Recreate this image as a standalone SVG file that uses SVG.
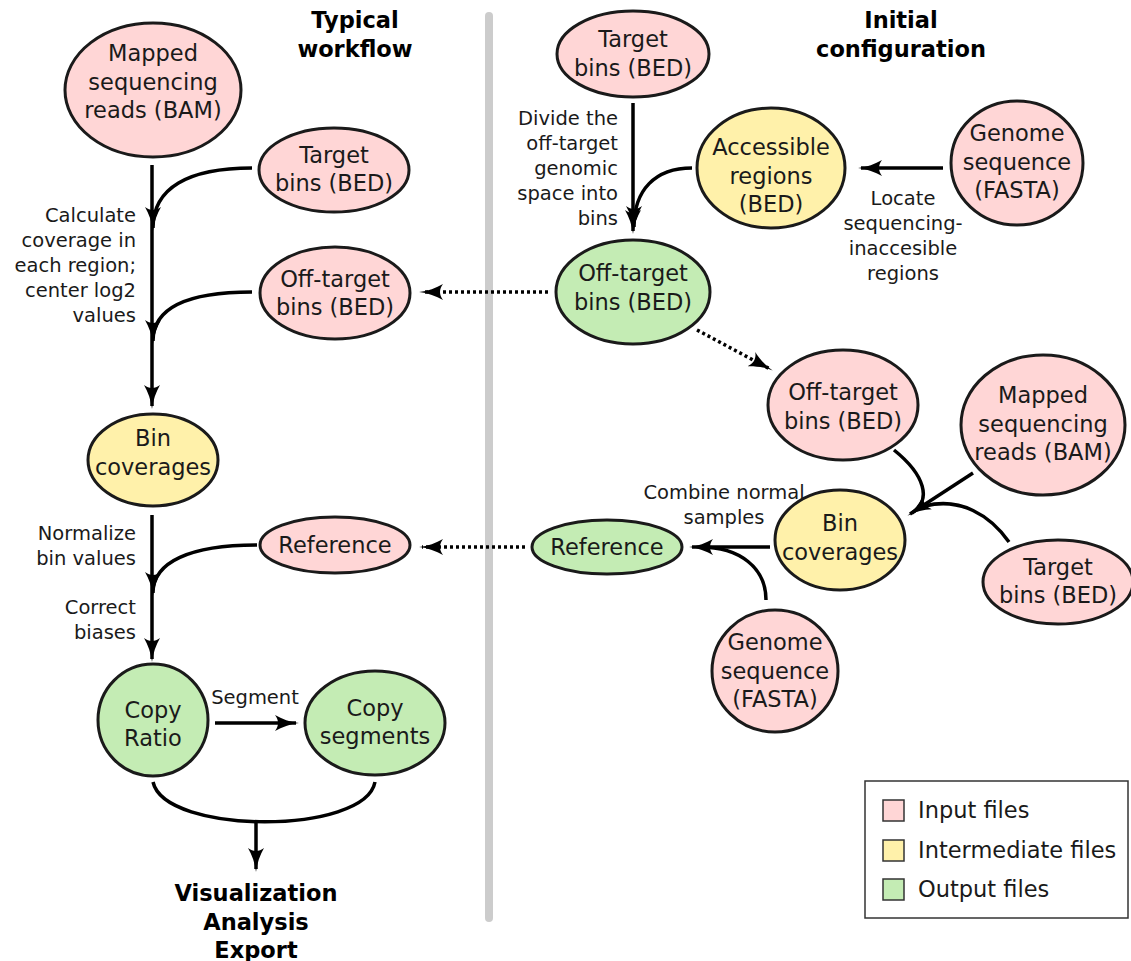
<svg xmlns="http://www.w3.org/2000/svg" width="1131" height="961" viewBox="0 0 1131 961">
<style>
text{font-family:"DejaVu Sans","Liberation Sans",sans-serif;fill:#1a1a1a}
.n{font-size:22.5px;text-anchor:middle}
.l{font-size:19.5px}
.r{text-anchor:end}
.c{text-anchor:middle}
.b{font-size:22.5px;font-weight:bold;text-anchor:middle;fill:#000}
.in{fill:#ffd6d6;stroke:#1a1a1a;stroke-width:3}
.mid{fill:#fff1aa;stroke:#1a1a1a;stroke-width:3}
.out{fill:#c4ecb4;stroke:#1a1a1a;stroke-width:3}
.e{fill:none;stroke:#000;stroke-width:3.5}
.d{stroke-dasharray:3 3}
</style>
<defs>
<marker id="ah" viewBox="0 0 24 16" refX="21" refY="8" markerWidth="24" markerHeight="16" markerUnits="userSpaceOnUse" orient="auto">
<path d="M24,8 C15,9 7,12 0,16 C4,11 4,5 0,0 C7,4 15,7 24,8 Z" fill="#000"/>
</marker>
</defs>
<line x1="489" y1="16" x2="489" y2="918" stroke="#cccccc" stroke-width="8" stroke-linecap="round"/>
<g id="titles">
<text class="b" x="355" y="28">Typical<tspan x="355" dy="29">workflow</tspan></text>
<text class="b" x="901" y="28">Initial<tspan x="901" dy="29">configuration</tspan></text>
<text class="b" x="256" y="901">Visualization<tspan x="256" dy="28.5">Analysis</tspan><tspan x="256" dy="28">Export</tspan></text>
</g>
<g id="connectors">
<path class="e" d="M152,165 V406" marker-end="url(#ah)"/>
<path class="e" d="M252,168 C188,168 153,188 153,228" marker-end="url(#ah)"/>
<path class="e" d="M252,292 C188,292 153,308 153,341" marker-end="url(#ah)"/>
<path class="e" d="M152,515 V659" marker-end="url(#ah)"/>
<path class="e" d="M257,545 C190,545 153,562 153,593" marker-end="url(#ah)"/>
<path class="e" d="M215,723 H296" marker-end="url(#ah)"/>
<path class="e" d="M153,782 C165,835 365,835 375,782"/>
<path class="e" d="M256,821 V869" marker-end="url(#ah)"/>
<path class="e d" d="M548,292 H422" marker-end="url(#ah)"/>
<path class="e d" d="M697,330 L770,369" marker-end="url(#ah)"/>
<path class="e d" d="M525,547 H422" marker-end="url(#ah)"/>
<path class="e" d="M633,103 V231" marker-end="url(#ah)"/>
<path class="e" d="M692,168 C655,168 634,190 634,227" marker-end="url(#ah)"/>
<path class="e" d="M943,168 H861" marker-end="url(#ah)"/>
<path class="e" d="M770,547 H692" marker-end="url(#ah)"/>
<path class="e" d="M766,600 C766,568 740,547 700,547"/>
<path class="e" d="M894,450 C925,475 932,500 912,513"/>
<path class="e" d="M1009,542 C990,515 960,497 925,506"/>
<path class="e" d="M973,473 L910,514" marker-end="url(#ah)"/>
</g>
<g id="labels">
<text class="l r" x="136" y="222">Calculate<tspan x="136" dy="25">coverage in</tspan><tspan x="136" dy="25">each region;</tspan><tspan x="136" dy="25">center log2</tspan><tspan x="136" dy="25">values</tspan></text>
<text class="l r" x="136" y="540">Normalize<tspan x="136" dy="25">bin values</tspan></text>
<text class="l r" x="136" y="614">Correct<tspan x="136" dy="25">biases</tspan></text>
<text class="l c" x="255" y="704">Segment</text>
<text class="l r" x="618" y="125">Divide the<tspan x="618" dy="25">off-target</tspan><tspan x="618" dy="25">genomic</tspan><tspan x="618" dy="25">space into</tspan><tspan x="618" dy="25">bins</tspan></text>
<text class="l c" x="903" y="205">Locate<tspan x="903" dy="25">sequencing-</tspan><tspan x="903" dy="25">inaccesible</tspan><tspan x="903" dy="25">regions</tspan></text>
<text class="l c" x="724" y="499">Combine normal<tspan x="724" dy="25">samples</tspan></text>
</g>
<g id="bam_left"><ellipse class="in" cx="153" cy="90" rx="88" ry="67"/><text class="n" x="153" y="61">Mapped<tspan x="153" dy="28.5">sequencing</tspan><tspan x="153" dy="28.5">reads (BAM)</tspan></text></g>
<g id="target_left"><ellipse class="in" cx="334" cy="170" rx="75" ry="42"/><text class="n" x="334" y="163">Target<tspan x="334" dy="28">bins (BED)</tspan></text></g>
<g id="offtarget_left"><ellipse class="in" cx="335" cy="293" rx="75" ry="46"/><text class="n" x="335" y="287">Off-target<tspan x="335" dy="28">bins (BED)</tspan></text></g>
<g id="bincov_left"><ellipse class="mid" cx="153" cy="460" rx="65" ry="46"/><text class="n" x="153" y="446">Bin<tspan x="153" dy="28.5">coverages</tspan></text></g>
<g id="reference_left"><ellipse class="in" cx="335" cy="545" rx="75" ry="28"/><text class="n" x="335" y="553">Reference</text></g>
<g id="copy_ratio"><ellipse class="out" cx="153" cy="720" rx="55" ry="56"/><text class="n" x="153" y="718">Copy<tspan x="153" dy="28">Ratio</tspan></text></g>
<g id="copy_segments"><ellipse class="out" cx="375" cy="723" rx="70" ry="52"/><text class="n" x="375" y="716">Copy<tspan x="375" dy="28">segments</tspan></text></g>
<g id="target_top"><ellipse class="in" cx="633" cy="54" rx="76" ry="43"/><text class="n" x="633" y="47">Target<tspan x="633" dy="29">bins (BED)</tspan></text></g>
<g id="accessible"><ellipse class="mid" cx="771" cy="168" rx="74" ry="60"/><text class="n" x="771" y="155">Accessible<tspan x="771" dy="28.5">regions</tspan><tspan x="771" dy="28.5">(BED)</tspan></text></g>
<g id="genome_top"><ellipse class="in" cx="1017" cy="163" rx="66" ry="62"/><text class="n" x="1017" y="141">Genome<tspan x="1017" dy="28.5">sequence</tspan><tspan x="1017" dy="28.5">(FASTA)</tspan></text></g>
<g id="offtarget_green"><ellipse class="out" cx="633" cy="292" rx="77" ry="52"/><text class="n" x="633" y="281">Off-target<tspan x="633" dy="29">bins (BED)</tspan></text></g>
<g id="offtarget_right"><ellipse class="in" cx="843" cy="405" rx="75" ry="55"/><text class="n" x="843" y="400">Off-target<tspan x="843" dy="28.5">bins (BED)</tspan></text></g>
<g id="bam_right"><ellipse class="in" cx="1043" cy="425" rx="82" ry="70"/><text class="n" x="1043" y="403">Mapped<tspan x="1043" dy="28.5">sequencing</tspan><tspan x="1043" dy="28.5">reads (BAM)</tspan></text></g>
<g id="bincov_right"><ellipse class="mid" cx="840" cy="540" rx="65" ry="50"/><text class="n" x="840" y="531">Bin<tspan x="840" dy="28.5">coverages</tspan></text></g>
<g id="target_right"><ellipse class="in" cx="1058" cy="582" rx="75" ry="42"/><text class="n" x="1058" y="575">Target<tspan x="1058" dy="28">bins (BED)</tspan></text></g>
<g id="reference_green"><ellipse class="out" cx="607" cy="547" rx="75" ry="27"/><text class="n" x="607" y="555">Reference</text></g>
<g id="genome_bottom"><ellipse class="in" cx="775" cy="671" rx="63" ry="61"/><text class="n" x="775" y="650">Genome<tspan x="775" dy="28.5">sequence</tspan><tspan x="775" dy="28.5">(FASTA)</tspan></text></g>
<g id="legend">
<rect x="865" y="781" width="263" height="137" fill="#fff" stroke="#333" stroke-width="1.5"/>
<rect x="883" y="800" width="21" height="21" class="in" style="stroke-width:1.5;stroke:#333"/>
<rect x="883" y="840" width="21" height="21" class="mid" style="stroke-width:1.5;stroke:#333"/>
<rect x="883" y="879" width="21" height="21" class="out" style="stroke-width:1.5;stroke:#333"/>
<text x="918" y="818" style="font-size:22.5px">Input files</text>
<text x="918" y="858" style="font-size:22.5px">Intermediate files</text>
<text x="918" y="897" style="font-size:22.5px">Output files</text>
</g>
</svg>
